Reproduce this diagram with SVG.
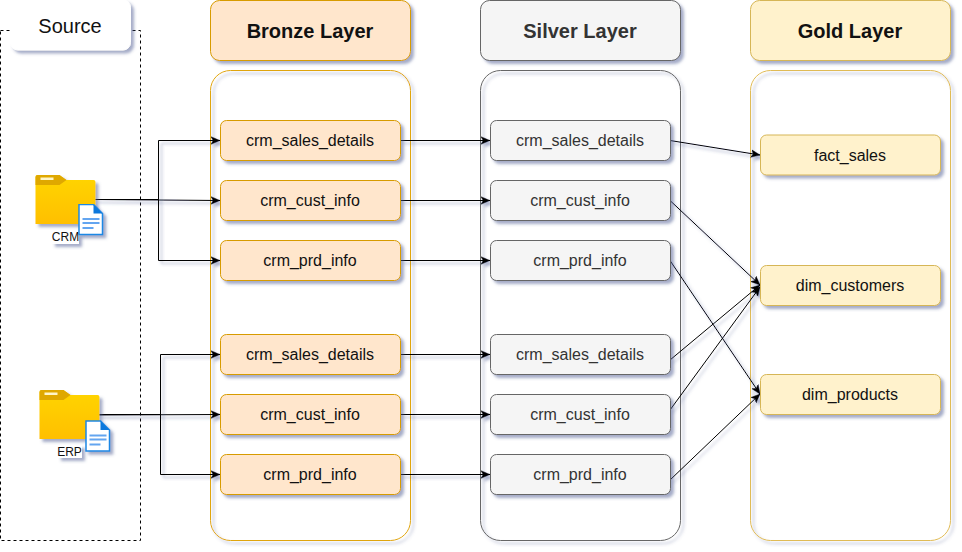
<svg xmlns="http://www.w3.org/2000/svg" width="962" height="552" viewBox="0 0 962 552">
<style>
text{font-family:"Liberation Sans",Arial,sans-serif;text-anchor:middle;fill:#111}
.s{filter:url(#sh)}
.h{font-size:20px;font-weight:bold}
.n{font-size:16px}
.dk{fill:#333}
.br{fill:#ffe6cc;stroke:#d79b00}
.si{fill:#f5f5f5;stroke:#666}
.go{fill:#fff2cc;stroke:#d6b656}
.c{fill:none;stroke:#000;stroke-width:1;marker-end:url(#a)}
</style>
<defs>
<filter id="sh" filterUnits="userSpaceOnUse" x="0" y="0" width="962" height="552"><feDropShadow dx="3" dy="3" stdDeviation="1.7" flood-color="#4a5a90" flood-opacity="0.5"/></filter>
<marker id="a" viewBox="0 0 10 10" refX="10" refY="5" markerWidth="9" markerHeight="9" markerUnits="userSpaceOnUse" orient="auto"><path d="M0 0.800L10 5L0 9.200L2.500 5Z" fill="#000" stroke="#000" stroke-width="0.500"/></marker>
<linearGradient id="fold" x1="0" y1="0" x2="0" y2="1"><stop offset="0" stop-color="#ffd500"/><stop offset="1" stop-color="#ffbf00"/></linearGradient>
<g id="folder" class="s">
<path d="M0 2Q0 0 2 0H24L31 5H58Q60 5 60 7V47Q60 49 58 49H0Z" fill="url(#fold)"/>
<path d="M0 2Q0 0 2 0H24L31 5L24 10H0Z" fill="#dfa800"/>
<rect x="5" y="2.500" width="13" height="2.500" fill="#fff5c8"/>
</g>
<g id="doc" class="s">
<path d="M0.500 0.500H15L24 9.500V30.500H0.500Z" fill="#fff" stroke="#1e88e5" stroke-width="1.500"/>
<path d="M15 0.500L24 9.500H15Z" fill="#0a78dc"/>
<path d="M4 15H21M4 19H21M4 24H15" stroke="#64a5f0" stroke-width="2" fill="none"/>
</g>
</defs>

<g id="source-frame"><rect x="0.500" y="30.500" width="140" height="510" fill="none" stroke="#000" stroke-dasharray="3 3"/></g>
<g id="source"><rect class="s" x="10.500" y="0" width="120" height="50" rx="7.500" fill="#fff" stroke="#fff"/><text x="70" y="33" font-size="20">Source</text></g>

<g id="bronze-header"><rect class="s br" x="210.500" y="0.500" width="200" height="60" rx="9"/><text class="h" x="310" y="38">Bronze Layer</text></g>
<g id="silver-header"><rect class="s si" x="480.500" y="0.500" width="200" height="60" rx="9"/><text class="h dk" x="580" y="38">Silver Layer</text></g>
<g id="gold-header"><rect class="s go" x="750.500" y="0.500" width="200" height="60" rx="9"/><text class="h" x="850" y="38">Gold Layer</text></g>

<g id="bronze-container"><rect class="s" x="210.500" y="70.500" width="200" height="470" rx="20" fill="none" stroke="#e0a50f"/></g>
<g id="silver-container"><rect class="s" x="480.500" y="70.500" width="200" height="470" rx="20" fill="none" stroke="#666"/></g>
<g id="gold-container"><rect class="s" x="750.500" y="70.500" width="200" height="470" rx="20" fill="none" stroke="#e0bb55"/></g>

<g id="connectors" class="s">
<path class="c" d="M95 199.500H158.500V140.500H220"/>
<path class="c" d="M95 199.500L220 200.500"/>
<path class="c" d="M95 199.500H158.500V260.500H220"/>
<path class="c" d="M99 414.500H160.500V354.500H220"/>
<path class="c" d="M99 415L220 414.500"/>
<path class="c" d="M99 414.500H160.500V474.500H220"/>
<path class="c" d="M400 140.500H490"/>
<path class="c" d="M400 200.500H490"/>
<path class="c" d="M400 260.500H490"/>
<path class="c" d="M400 354.500H490"/>
<path class="c" d="M400 414.500H490"/>
<path class="c" d="M400 474.500H490"/>
<path class="c" d="M670 140.500L760 155"/>
<path class="c" d="M670 200.500L760 285"/>
<path class="c" d="M670 260.500L760 394"/>
<path class="c" d="M670 360L760 285"/>
<path class="c" d="M670 410L760 287"/>
<path class="c" d="M670 480L760 394"/>
</g>

<g id="crm-source">
<use href="#folder" x="35.500" y="175"/>
<rect class="s" x="52" y="231" width="27" height="13" fill="#fff"/>
<text x="65.500" y="241" font-size="12">CRM</text>
<use href="#doc" x="78.500" y="204"/>
</g>
<g id="erp-source">
<use href="#folder" x="39.500" y="390"/>
<rect class="s" x="58" y="445" width="24" height="13" fill="#fff"/>
<text x="69.500" y="456" font-size="12">ERP</text>
<use href="#doc" x="85.500" y="420.500"/>
</g>

<g id="b1"><rect class="s br" x="220.500" y="120.500" width="180" height="40" rx="6"/><text class="n" x="310" y="146">crm_sales_details</text></g>
<g id="b2"><rect class="s br" x="220.500" y="180.500" width="180" height="40" rx="6"/><text class="n" x="310" y="206">crm_cust_info</text></g>
<g id="b3"><rect class="s br" x="220.500" y="240.500" width="180" height="40" rx="6"/><text class="n" x="310" y="266">crm_prd_info</text></g>
<g id="b4"><rect class="s br" x="220.500" y="334.500" width="180" height="40" rx="6"/><text class="n" x="310" y="360">crm_sales_details</text></g>
<g id="b5"><rect class="s br" x="220.500" y="394.500" width="180" height="40" rx="6"/><text class="n" x="310" y="420">crm_cust_info</text></g>
<g id="b6"><rect class="s br" x="220.500" y="454.500" width="180" height="40" rx="6"/><text class="n" x="310" y="480">crm_prd_info</text></g>

<g id="s1"><rect class="s si" x="490.500" y="120.500" width="180" height="40" rx="6"/><text class="n dk" x="580" y="146">crm_sales_details</text></g>
<g id="s2"><rect class="s si" x="490.500" y="180.500" width="180" height="40" rx="6"/><text class="n dk" x="580" y="206">crm_cust_info</text></g>
<g id="s3"><rect class="s si" x="490.500" y="240.500" width="180" height="40" rx="6"/><text class="n dk" x="580" y="266">crm_prd_info</text></g>
<g id="s4"><rect class="s si" x="490.500" y="334.500" width="180" height="40" rx="6"/><text class="n dk" x="580" y="360">crm_sales_details</text></g>
<g id="s5"><rect class="s si" x="490.500" y="394.500" width="180" height="40" rx="6"/><text class="n dk" x="580" y="420">crm_cust_info</text></g>
<g id="s6"><rect class="s si" x="490.500" y="454.500" width="180" height="40" rx="6"/><text class="n dk" x="580" y="480">crm_prd_info</text></g>

<g id="g1"><rect class="s go" x="760.500" y="135" width="180" height="40" rx="6"/><text class="n" x="850" y="161">fact_sales</text></g>
<g id="g2"><rect class="s go" x="760.500" y="265.500" width="180" height="40" rx="6"/><text class="n" x="850" y="291">dim_customers</text></g>
<g id="g3"><rect class="s go" x="760.500" y="374.500" width="180" height="40" rx="6"/><text class="n" x="850" y="400">dim_products</text></g>
</svg>
